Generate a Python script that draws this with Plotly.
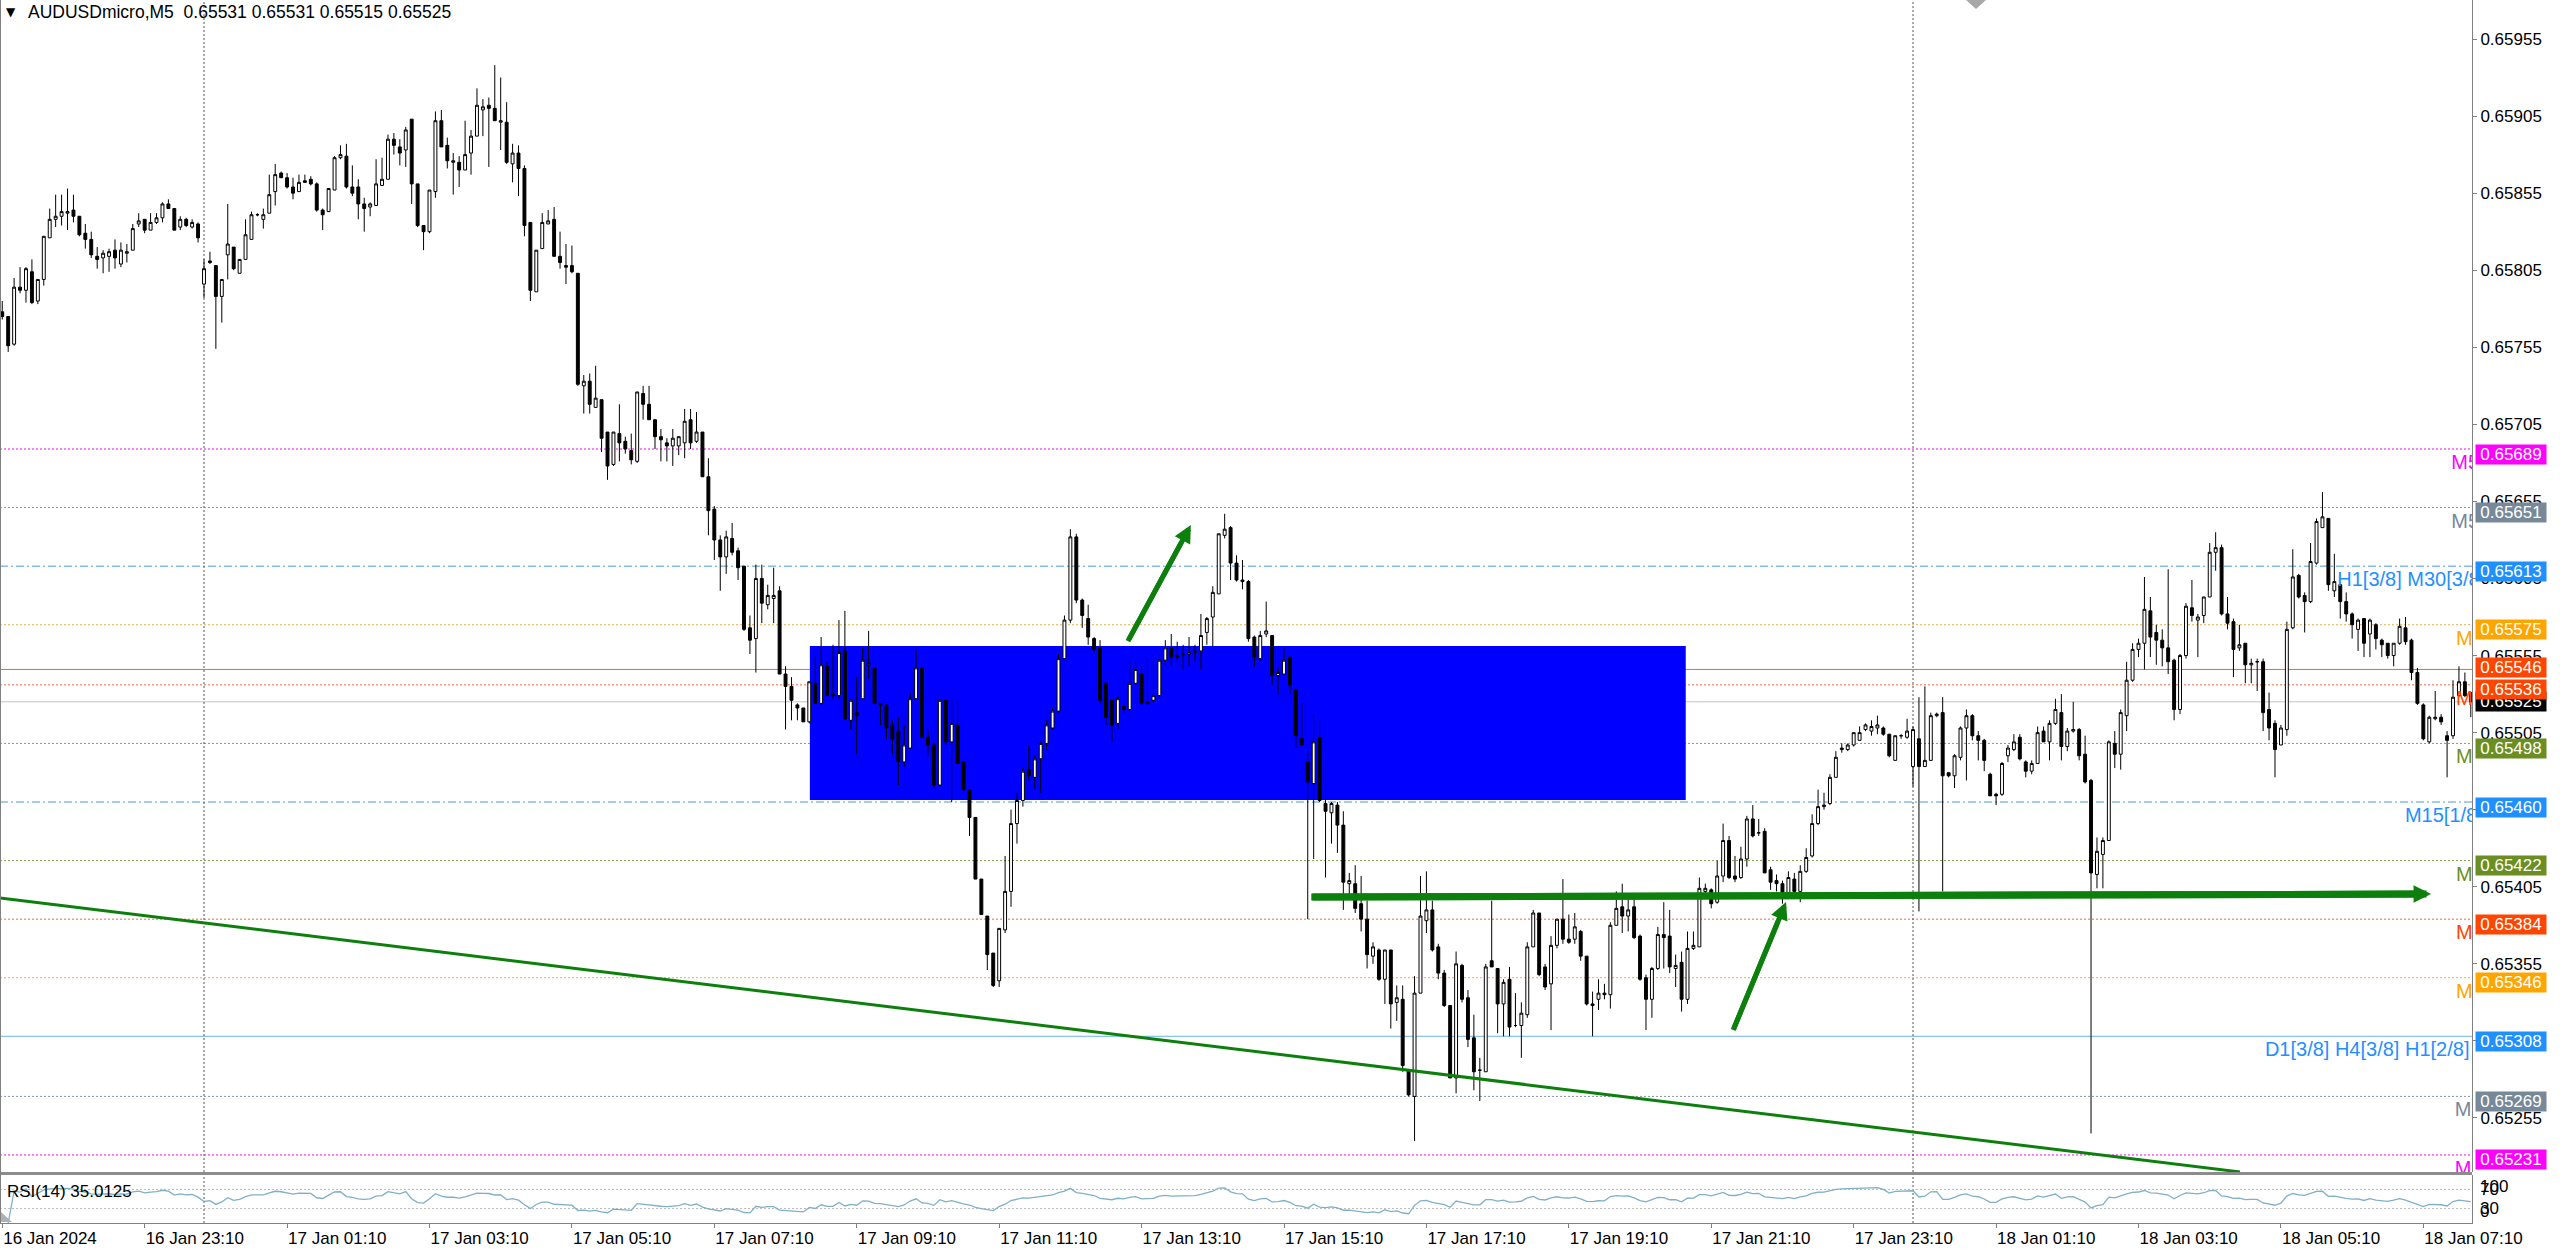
import plotly.graph_objects as go

# ---------------------------------------------------------------- data
SYMBOL = "AUDUSDmicro,M5"
LAST_OHLC = ["0.65531", "0.65531", "0.65515", "0.65525"]
RSI_LABEL = "RSI(14) 35.0125"
FIRST_BAR = -34          # M5 bars counted from 17 Jan 00:00 (bar 0)

# prices in 1e-5 units (65778 -> 0.65778)
OPEN = [
    65778, 65775, 65757, 65794, 65792, 65804, 65785, 65799, 65826, 65838,
    65840, 65842, 65844, 65840, 65829, 65825, 65814, 65813, 65814, 65818,
    65809, 65816, 65818, 65835, 65838, 65831, 65836, 65839, 65848, 65845,
    65833, 65838, 65833, 65835, 65796, 65811, 65808, 65788, 65815, 65820,
    65803, 65812, 65825, 65841, 65838, 65842, 65856, 65868, 65865, 65859,
    65856, 65863, 65864, 65861, 65844, 65843, 65857, 65878, 65879, 65859,
    65859, 65848, 65846, 65847, 65860, 65864, 65890, 65885, 65883, 65903,
    65861, 65834, 65830, 65856, 65902, 65886, 65875, 65875, 65870, 65881,
    65892, 65909, 65912, 65910, 65901, 65901, 65874, 65881, 65871, 65836,
    65791, 65819, 65835, 65838, 65814, 65808, 65808, 65803, 65730, 65733,
    65716, 65721, 65700, 65679, 65699, 65694, 65688, 65681, 65725, 65718,
    65708, 65697, 65693, 65691, 65691, 65693, 65708, 65694, 65700, 65671,
    65650, 65630, 65619, 65631, 65623, 65613, 65573, 65566, 65605, 65588,
    65592, 65597, 65543, 65535, 65523, 65521, 65512, 65537, 65524, 65548,
    65530, 65529, 65558, 65513, 65518, 65527, 65549, 65547, 65524, 65523,
    65510, 65506, 65486, 65495, 65527, 65547, 65502, 65497, 65471, 65526,
    65499, 65510, 65486, 65468, 65450, 65410, 65386, 65362, 65344, 65377,
    65402, 65446, 65461, 65481, 65476, 65488, 65498, 65508, 65519, 65553,
    65578, 65632, 65591, 65579, 65566, 65560, 65537, 65526, 65511, 65522,
    65520, 65537, 65543, 65525, 65526, 65529, 65552, 65560, 65555, 65556,
    65556, 65557, 65558, 65570, 65580, 65595, 65633, 65638, 65615, 65604,
    65603, 65567, 65553, 65569, 65568, 65542, 65543, 65554, 65533, 65501,
    65486, 65472, 65502, 65459, 65453, 65458, 65445, 65407, 65407, 65394,
    65384, 65360, 65364, 65345, 65364, 65330, 65332, 65286, 65269, 65336,
    65383, 65390, 65366, 65349, 65328, 65281, 65354, 65333, 65307, 65286,
    65285, 65357, 65352, 65329, 65345, 65315, 65315, 65322, 65366, 65388,
    65353, 65342, 65367, 65384, 65371, 65371, 65376, 65360, 65329, 65332,
    65336, 65335, 65380, 65392, 65386, 65392, 65373, 65346, 65332, 65352,
    65374, 65373, 65352, 65356, 65332, 65365, 65366, 65402, 65403, 65395,
    65412, 65435, 65412, 65411, 65423, 65449, 65440, 65441, 65416, 65409,
    65407, 65401, 65410, 65402, 65415, 65425, 65446, 65457, 65459, 65476,
    65494, 65494, 65497, 65500, 65507, 65506, 65508, 65508, 65504, 65487,
    65503, 65502, 65483, 65501, 65483, 65487, 65516, 65518, 65479, 65477,
    65489, 65508, 65516, 65503, 65500, 65478, 65465, 65465, 65490, 65494,
    65502, 65486, 65480, 65485, 65506, 65499, 65511, 65518, 65496, 65506,
    65507, 65491, 65474, 65413, 65426, 65435, 65498, 65491, 65516, 65539,
    65559, 65563, 65584, 65570, 65565, 65560, 65552, 65520, 65555, 65586,
    65578, 65581, 65593, 65622, 65625, 65582, 65577, 65560, 65563, 65549,
    65551, 65551, 65520, 65511, 65497, 65507, 65573, 65607, 65594, 65590,
    65615, 65638, 65644, 65597, 65601, 65590, 65582, 65572, 65579, 65569,
    65575, 65565, 65563, 65555, 65563, 65573, 65565, 65544, 65523, 65499,
    65514, 65515, 65503, 65503, 65529, 65538, 65531,
]
HIGH = [
    65785, 65775, 65800, 65807, 65807, 65812, 65799, 65827, 65845, 65854,
    65854, 65858, 65854, 65840, 65835, 65830, 65820, 65818, 65819, 65825,
    65823, 65822, 65835, 65842, 65838, 65842, 65842, 65849, 65851, 65845,
    65840, 65839, 65838, 65836, 65812, 65817, 65808, 65799, 65848, 65820,
    65812, 65838, 65843, 65842, 65845, 65867, 65874, 65869, 65868, 65865,
    65867, 65867, 65866, 65862, 65845, 65858, 65879, 65886, 65887, 65873,
    65864, 65852, 65849, 65877, 65878, 65893, 65894, 65890, 65898, 65903,
    65861, 65834, 65857, 65908, 65909, 65891, 65881, 65879, 65902, 65896,
    65923, 65916, 65917, 65938, 65930, 65914, 65887, 65886, 65873, 65836,
    65818, 65842, 65844, 65846, 65830, 65822, 65821, 65803, 65737, 65738,
    65743, 65721, 65700, 65700, 65718, 65697, 65699, 65726, 65730, 65730,
    65708, 65702, 65696, 65702, 65697, 65715, 65715, 65713, 65700, 65683,
    65652, 65633, 65636, 65641, 65625, 65613, 65581, 65614, 65614, 65601,
    65612, 65600, 65548, 65541, 65524, 65521, 65538, 65554, 65567, 65551,
    65562, 65578, 65584, 65526, 65541, 65560, 65571, 65547, 65524, 65523,
    65513, 65515, 65510, 65531, 65559, 65547, 65507, 65499, 65526, 65526,
    65526, 65526, 65487, 65468, 65450, 65410, 65386, 65362, 65378, 65425,
    65455, 65466, 65482, 65497, 65490, 65499, 65513, 65521, 65556, 65581,
    65637, 65634, 65592, 65588, 65567, 65565, 65538, 65526, 65529, 65523,
    65551, 65551, 65548, 65554, 65551, 65555, 65565, 65569, 65564, 65562,
    65567, 65562, 65582, 65580, 65600, 65634, 65647, 65639, 65620, 65617,
    65604, 65568, 65571, 65590, 65568, 65547, 65560, 65554, 65533, 65524,
    65493, 65517, 65513, 65488, 65460, 65460, 65454, 65414, 65419, 65412,
    65396, 65369, 65365, 65364, 65364, 65341, 65341, 65286, 65347, 65412,
    65415, 65396, 65368, 65351, 65328, 65363, 65355, 65338, 65322, 65294,
    65355, 65396, 65352, 65345, 65353, 65336, 65330, 65369, 65390, 65388,
    65355, 65373, 65384, 65410, 65387, 65388, 65377, 65360, 65337, 65345,
    65342, 65382, 65402, 65407, 65398, 65398, 65374, 65348, 65353, 65379,
    65395, 65390, 65361, 65363, 65376, 65376, 65411, 65407, 65404, 65422,
    65446, 65438, 65425, 65431, 65451, 65458, 65449, 65443, 65418, 65413,
    65409, 65415, 65414, 65419, 65430, 65452, 65468, 65466, 65478, 65493,
    65498, 65498, 65505, 65509, 65511, 65513, 65516, 65509, 65504, 65503,
    65504, 65514, 65509, 65528, 65535, 65518, 65518, 65528, 65479, 65491,
    65509, 65520, 65517, 65506, 65501, 65479, 65466, 65486, 65497, 65504,
    65504, 65487, 65487, 65509, 65509, 65513, 65527, 65530, 65508, 65525,
    65508, 65503, 65475, 65437, 65437, 65500, 65506, 65520, 65551, 65563,
    65566, 65606, 65593, 65575, 65572, 65611, 65553, 65556, 65589, 65604,
    65582, 65593, 65628, 65635, 65627, 65593, 65579, 65575, 65563, 65553,
    65553, 65553, 65531, 65513, 65510, 65577, 65624, 65608, 65596, 65628,
    65644, 65661, 65644, 65621, 65601, 65596, 65583, 65579, 65579, 65579,
    65576, 65566, 65563, 65563, 65579, 65580, 65566, 65547, 65524, 65516,
    65532, 65517, 65506, 65539, 65548, 65544, 65531,
]
LOW = [
    65773, 65752, 65756, 65790, 65784, 65783, 65783, 65795, 65826, 65833,
    65834, 65831, 65836, 65827, 65819, 65813, 65806, 65803, 65804, 65806,
    65807, 65810, 65818, 65833, 65829, 65831, 65835, 65836, 65845, 65831,
    65831, 65833, 65832, 65823, 65787, 65809, 65754, 65771, 65799, 65805,
    65803, 65812, 65825, 65840, 65832, 65842, 65847, 65865, 65858, 65851,
    65856, 65862, 65860, 65843, 65831, 65843, 65857, 65877, 65858, 65853,
    65838, 65830, 65840, 65847, 65860, 65864, 65880, 65873, 65872, 65848,
    65833, 65818, 65829, 65852, 65885, 65871, 65854, 65859, 65870, 65867,
    65892, 65892, 65872, 65902, 65883, 65874, 65862, 65853, 65827, 65785,
    65791, 65819, 65835, 65814, 65806, 65796, 65803, 65730, 65712, 65712,
    65716, 65687, 65669, 65678, 65681, 65686, 65679, 65680, 65708, 65708,
    65689, 65681, 65681, 65678, 65685, 65683, 65689, 65693, 65671, 65633,
    65617, 65597, 65608, 65620, 65604, 65571, 65556, 65544, 65576, 65585,
    65576, 65543, 65507, 65513, 65513, 65512, 65511, 65524, 65523, 65529,
    65527, 65527, 65513, 65507, 65491, 65527, 65540, 65524, 65510, 65501,
    65491, 65471, 65483, 65494, 65527, 65502, 65490, 65469, 65471, 65497,
    65460, 65485, 65465, 65438, 65410, 65387, 65351, 65340, 65340, 65375,
    65392, 65433, 65457, 65474, 65468, 65466, 65494, 65507, 65518, 65553,
    65576, 65589, 65573, 65562, 65557, 65524, 65510, 65499, 65507, 65518,
    65518, 65535, 65523, 65523, 65524, 65527, 65549, 65548, 65551, 65546,
    65548, 65551, 65546, 65562, 65561, 65595, 65631, 65604, 65603, 65598,
    65564, 65548, 65552, 65567, 65536, 65530, 65543, 65530, 65495, 65497,
    65384, 65423, 65460, 65411, 65433, 65427, 65390, 65398, 65388, 65376,
    65352, 65355, 65344, 65329, 65313, 65318, 65285, 65269, 65240, 65336,
    65375, 65363, 65345, 65327, 65281, 65271, 65330, 65301, 65273, 65266,
    65285, 65353, 65310, 65308, 65308, 65314, 65294, 65320, 65366, 65347,
    65338, 65312, 65365, 65368, 65368, 65368, 65357, 65328, 65308, 65325,
    65332, 65326, 65380, 65375, 65376, 65371, 65344, 65312, 65320, 65351,
    65352, 65349, 65340, 65324, 65329, 65364, 65366, 65398, 65391, 65394,
    65408, 65410, 65408, 65410, 65418, 65437, 65438, 65414, 65403, 65402,
    65394, 65400, 65400, 65395, 65414, 65424, 65445, 65455, 65458, 65476,
    65492, 65493, 65496, 65500, 65506, 65503, 65504, 65503, 65489, 65487,
    65501, 65501, 65470, 65389, 65483, 65487, 65515, 65402, 65476, 65469,
    65487, 65474, 65500, 65487, 65480, 65464, 65458, 65464, 65486, 65493,
    65487, 65476, 65478, 65485, 65499, 65487, 65510, 65487, 65493, 65505,
    65487, 65472, 65245, 65404, 65404, 65435, 65482, 65481, 65506, 65538,
    65554, 65546, 65554, 65549, 65548, 65543, 65513, 65517, 65553, 65577,
    65554, 65576, 65593, 65610, 65581, 65572, 65541, 65558, 65537, 65537,
    65532, 65506, 65500, 65476, 65497, 65503, 65572, 65592, 65570, 65589,
    65614, 65638, 65597, 65593, 65579, 65577, 65566, 65558, 65554, 65554,
    65559, 65554, 65553, 65548, 65562, 65562, 65539, 65523, 65500, 65498,
    65513, 65510, 65476, 65501, 65528, 65528, 65515,
]
CLOSE = [
    65775, 65756, 65794, 65792, 65806, 65784, 65799, 65827, 65838, 65840,
    65843, 65843, 65840, 65828, 65825, 65815, 65812, 65816, 65817, 65813,
    65818, 65817, 65832, 65837, 65831, 65836, 65839, 65848, 65845, 65831,
    65838, 65834, 65836, 65826, 65806, 65810, 65788, 65799, 65822, 65806,
    65812, 65828, 65841, 65841, 65841, 65854, 65867, 65865, 65859, 65855,
    65862, 65862, 65861, 65844, 65841, 65858, 65878, 65880, 65859, 65855,
    65848, 65845, 65848, 65861, 65864, 65890, 65886, 65881, 65896, 65861,
    65834, 65830, 65857, 65902, 65885, 65876, 65876, 65870, 65880, 65892,
    65912, 65911, 65910, 65902, 65902, 65875, 65881, 65871, 65834, 65792,
    65818, 65836, 65837, 65814, 65810, 65807, 65804, 65731, 65733, 65718,
    65722, 65696, 65678, 65700, 65693, 65689, 65682, 65726, 65718, 65708,
    65697, 65695, 65691, 65696, 65697, 65707, 65693, 65700, 65671, 65649,
    65630, 65619, 65632, 65622, 65612, 65572, 65565, 65605, 65589, 65594,
    65594, 65543, 65535, 65526, 65521, 65512, 65538, 65524, 65549, 65529,
    65529, 65557, 65514, 65526, 65516, 65552, 65550, 65524, 65523, 65508,
    65501, 65486, 65497, 65527, 65547, 65502, 65497, 65471, 65526, 65499,
    65511, 65485, 65468, 65450, 65410, 65387, 65361, 65341, 65378, 65402,
    65446, 65461, 65480, 65477, 65488, 65498, 65510, 65519, 65553, 65578,
    65632, 65591, 65581, 65567, 65559, 65526, 65515, 65510, 65527, 65520,
    65537, 65546, 65524, 65524, 65529, 65552, 65560, 65554, 65554, 65556,
    65557, 65558, 65568, 65579, 65596, 65634, 65637, 65615, 65604, 65603,
    65566, 65554, 65568, 65571, 65542, 65544, 65552, 65536, 65503, 65497,
    65473, 65499, 65461, 65454, 65459, 65445, 65408, 65409, 65391, 65384,
    65361, 65366, 65345, 65364, 65329, 65333, 65289, 65270, 65336, 65386,
    65390, 65364, 65349, 65328, 65281, 65355, 65332, 65306, 65285, 65286,
    65353, 65353, 65329, 65343, 65314, 65315, 65323, 65366, 65388, 65348,
    65340, 65367, 65384, 65371, 65369, 65379, 65360, 65329, 65328, 65336,
    65335, 65380, 65391, 65386, 65390, 65372, 65345, 65332, 65352, 65374,
    65372, 65353, 65354, 65332, 65365, 65367, 65404, 65404, 65394, 65412,
    65435, 65411, 65410, 65423, 65449, 65438, 65440, 65414, 65408, 65407,
    65401, 65411, 65402, 65415, 65424, 65446, 65457, 65458, 65476, 65489,
    65495, 65497, 65505, 65505, 65510, 65509, 65510, 65504, 65490, 65503,
    65503, 65506, 65507, 65483, 65487, 65516, 65517, 65477, 65477, 65490,
    65508, 65516, 65503, 65500, 65487, 65464, 65464, 65485, 65495, 65499,
    65488, 65480, 65485, 65505, 65499, 65511, 65520, 65496, 65506, 65507,
    65490, 65473, 65414, 65428, 65435, 65499, 65491, 65518, 65539, 65559,
    65563, 65585, 65567, 65565, 65560, 65551, 65520, 65555, 65587, 65581,
    65580, 65593, 65622, 65625, 65582, 65576, 65559, 65562, 65549, 65550,
    65551, 65518, 65508, 65494, 65508, 65572, 65606, 65593, 65590, 65616,
    65642, 65645, 65601, 65603, 65590, 65582, 65575, 65578, 65563, 65578,
    65566, 65562, 65555, 65563, 65574, 65564, 65544, 65524, 65501, 65515,
    65515, 65512, 65500, 65528, 65538, 65529, 65525,
]

TIME_TICK_BARS = [-34, -10, 14, 38, 62, 86, 110, 134, 158, 182, 206, 230, 254,
                  278, 302, 326, 350, 374]
TIME_TICK_TEXT = ["16 Jan 2024", "16 Jan 23:10", "17 Jan 01:10", "17 Jan 03:10",
                  "17 Jan 05:10", "17 Jan 07:10", "17 Jan 09:10", "17 Jan 11:10",
                  "17 Jan 13:10", "17 Jan 15:10", "17 Jan 17:10", "17 Jan 19:10",
                  "17 Jan 21:10", "17 Jan 23:10", "18 Jan 01:10", "18 Jan 03:10",
                  "18 Jan 05:10", "18 Jan 07:10"]
PRICE_TICKS = [0.65255, 0.65305, 0.65355, 0.65405, 0.65455, 0.65505, 0.65555,
               0.65605, 0.65655, 0.65705, 0.65755, 0.65805, 0.65855, 0.65905,
               0.65955]

LEVEL_PRICE = [0.65689, 0.65651, 0.65613, 0.65575, 0.65536, 0.65498, 0.65460,
               0.65422, 0.65384, 0.65346, 0.65308, 0.65269, 0.65231]
LEVEL_NAME = ["M5", "M5", "H1[3/8] M30[3/8]", "M", "M", "M", "M15[1/8]",
              "M", "M", "M", "D1[3/8] H4[3/8] H1[2/8]", "M", "M"]
LEVEL_NAME_BAR = [378.7, 378.7, 359.5, 379.5, 379.5, 379.5, 370.9,
                  379.5, 379.5, 379.5, 347.3, 379.3, 379.3]
ASK_PRICE = 0.65546
BID_PRICE = 0.65525

ZONE_BARS = [102.1, 249.7]
ZONE_PRICES = [0.654613, 0.655612]
TREND_BARS = [-34.38, 343.1]
TREND_PRICES = [0.653977, 0.652200]
SUPPORT_BARS = [186.6, 375.3]
SUPPORT_PRICES = [0.653984, 0.654003]
ARROW1_BARS = [155.7, 166.3]
ARROW1_PRICES = [0.655644, 0.656397]
ARROW2_BARS = [257.7, 266.6]
ARROW2_PRICES = [0.653121, 0.653951]
DAY_BREAK_BARS = [0, 288]
RSI_PERIOD = 14
RSI_LEVELS = [30, 70]

# ---------------------------------------------------------------- styles
FONT = "Liberation Sans, Arial, sans-serif"
W, H = 2560, 1249
M_L, M_R, M_T, M_B = 0, 88, 0, 26
PLOT_W = W - M_L - M_R
PLOT_H = H - M_T - M_B
MAIN_BOTTOM_PX = 1172
RSI_TOP_PX = 1175
X_RANGE = [-34.378, 382.2]
Y_RANGE = [0.6521996, 0.659803]
PRICE_PER_PX = (Y_RANGE[1] - Y_RANGE[0]) / MAIN_BOTTOM_PX
GREEN = "#0c7f0c"

LEVEL_COLOR = ["#FF00FF", "#778899", "#1E90FF", "#FFA500", "#FF4500", "#6B8E23",
               "#1E90FF", "#6B8E23", "#FF4500", "#FFA500", "#1E90FF", "#778899",
               "#FF00FF"]
LEVEL_DASH = ["2px,2px", "2px,2px", "8px,3px,2px,3px", "2px,2px", "2px,2px",
              "2px,2px", "8px,3px,2px,3px", "2px,2px", "2px,2px", "2px,2px",
              "solid", "2px,2px", "2px,2px"]
LEVEL_LINE_COLOR = ["#FF00FF", "#8a97a5", "#4a9ad8", "#E8B04A", "#F06a40", "#86a050",
                    "#4a9ad8", "#86a050", "#F06a40", "#E8B04A", "#6cb6e6", "#8a97a5",
                    "#FF00FF"]


def paper_y(px):
    return 1 - (px - M_T) / PLOT_H


def paper_x(px):
    return (px - M_L) / PLOT_W


bars = list(range(FIRST_BAR, FIRST_BAR + len(CLOSE)))
assert len(OPEN) == len(HIGH) == len(LOW) == len(CLOSE)
o = [v / 1e5 for v in OPEN]
h = [v / 1e5 for v in HIGH]
l = [v / 1e5 for v in LOW]
c = [v / 1e5 for v in CLOSE]

# RSI(14), Wilder smoothing (expanding start)
rsi = [None]
ag = al = 0.0
for i in range(1, len(c)):
    d = c[i] - c[i - 1]
    m = min(i, RSI_PERIOD)
    ag = (ag * (m - 1) + max(d, 0)) / m
    al = (al * (m - 1) + max(-d, 0)) / m
    rsi.append(100.0 if al == 0 else 100 - 100 / (1 + ag / al))

fig = go.Figure()

fig.add_trace(go.Candlestick(
    x=bars, open=o, high=h, low=l, close=c,
    increasing=dict(line=dict(color="black", width=1), fillcolor="white"),
    decreasing=dict(line=dict(color="black", width=1), fillcolor="black"),
    whiskerwidth=0, xaxis="x", yaxis="y", showlegend=False, hoverinfo="skip",
))

# level names (clipped by the plot area like in the terminal)
fig.add_trace(go.Scatter(
    x=LEVEL_NAME_BAR, y=[p - 5 * PRICE_PER_PX for p in LEVEL_PRICE],
    mode="text", text=LEVEL_NAME, textposition="bottom right",
    textfont=dict(family=FONT, size=20, color=LEVEL_COLOR),
    cliponaxis=True, xaxis="x", yaxis="y", showlegend=False, hoverinfo="skip",
))

fig.add_trace(go.Scatter(
    x=bars, y=rsi, mode="lines", line=dict(color="#7fb0c8", width=1.3),
    xaxis="x2", yaxis="y2", showlegend=False, hoverinfo="skip",
))

shapes = []
# blue zone
shapes.append(dict(type="rect", xref="x", yref="y", x0=ZONE_BARS[0], x1=ZONE_BARS[1],
                   y0=ZONE_PRICES[0], y1=ZONE_PRICES[1], fillcolor="#0000FF",
                   line=dict(width=0), layer="below"))
# level lines
for p, col, dash in zip(LEVEL_PRICE, LEVEL_LINE_COLOR, LEVEL_DASH):
    shapes.append(dict(type="line", xref="x domain", yref="y", x0=0, x1=1, y0=p, y1=p,
                       line=dict(color=col, width=1, dash=dash), layer="below"))
shapes.append(dict(type="line", xref="x domain", yref="y", x0=0, x1=1, y0=ASK_PRICE,
                   y1=ASK_PRICE, line=dict(color="#F0643C", width=1), layer="below"))
shapes.append(dict(type="line", xref="x domain", yref="y", x0=0, x1=1, y0=BID_PRICE,
                   y1=BID_PRICE, line=dict(color="#C4C4C4", width=1), layer="below"))
# day separators
for b in DAY_BREAK_BARS:
    shapes.append(dict(type="line", xref="x", yref="y domain", x0=b, x1=b, y0=0, y1=1,
                       line=dict(color="#555555", width=1, dash="2px,2px"), layer="below"))
    shapes.append(dict(type="line", xref="x2", yref="y2 domain", x0=b, x1=b, y0=0, y1=1,
                       line=dict(color="#555555", width=1, dash="2px,2px"), layer="below"))
# RSI levels
for lv in RSI_LEVELS:
    shapes.append(dict(type="line", xref="x2 domain", yref="y2", x0=0, x1=1, y0=lv, y1=lv,
                       line=dict(color="#B8B8B8", width=1, dash="2px,2px"), layer="below"))
# trend line
shapes.append(dict(type="line", xref="x", yref="y", x0=TREND_BARS[0], x1=TREND_BARS[1],
                   y0=TREND_PRICES[0], y1=TREND_PRICES[1],
                   line=dict(color=GREEN, width=3), layer="above"))
# arrow shafts (heads are drawn with annotations below)
for bx, pr, wdt, frac in [(SUPPORT_BARS, SUPPORT_PRICES, 7, 0.985),
                          (ARROW1_BARS, ARROW1_PRICES, 5, 0.85),
                          (ARROW2_BARS, ARROW2_PRICES, 5, 0.85)]:
    shapes.append(dict(type="line", xref="x", yref="y", x0=bx[0], y0=pr[0],
                       x1=bx[0] + (bx[1] - bx[0]) * frac,
                       y1=pr[0] + (pr[1] - pr[0]) * frac,
                       line=dict(color=GREEN, width=wdt), layer="above"))
# panel separator, left frame
shapes.append(dict(type="rect", xref="paper", yref="paper", x0=0, x1=1,
                   y0=paper_y(RSI_TOP_PX), y1=paper_y(MAIN_BOTTOM_PX),
                   fillcolor="#8c8c8c", line=dict(width=0)))
shapes.append(dict(type="line", xref="paper", yref="paper", x0=0, x1=0, y0=0, y1=1,
                   line=dict(color="#808080", width=2)))
# chart-shift marker and small corner marker
shapes.append(dict(type="path", xref="paper", yref="paper",
                   path=f"M {paper_x(1966)},{paper_y(0)} L {paper_x(1986)},{paper_y(0)} "
                        f"L {paper_x(1976)},{paper_y(9)} Z",
                   fillcolor="#A8A8A8", line=dict(width=0)))
shapes.append(dict(type="path", xref="paper", yref="paper",
                   path=f"M {paper_x(1)},{paper_y(1212)} L {paper_x(1)},{paper_y(1222)} "
                        f"L {paper_x(12)},{paper_y(1222)} Z",
                   fillcolor="#B0B0B0", line=dict(width=0)))

ann = []
# title
ann.append(dict(xref="paper", yref="paper", x=paper_x(4), y=paper_y(12), xanchor="left",
                yanchor="middle", text="▼", showarrow=False,
                font=dict(family="DejaVu Sans", size=12, color="black")))
ann.append(dict(xref="paper", yref="paper", x=paper_x(26), y=paper_y(12), xanchor="left",
                yanchor="middle", text=SYMBOL + "\u00a0\u00a0" + " ".join(LAST_OHLC),
                showarrow=False, font=dict(family=FONT, size=17.5, color="black")))
ann.append(dict(xref="paper", yref="paper", x=paper_x(5), y=paper_y(1191), xanchor="left",
                yanchor="middle", text=RSI_LABEL, showarrow=False,
                font=dict(family=FONT, size=17, color="black")))
# rsi scale
for txt, val, anc in [("100", 100, "top"), ("70", 70, "middle"), ("30", 30, "middle"),
                      ("0", 0, "bottom")]:
    ann.append(dict(xref="paper", yref="y2", x=1, y=val, xanchor="left", xshift=6,
                    yanchor=anc, text=txt, showarrow=False,
                    font=dict(family=FONT, size=17, color="black")))
# price boxes
boxes = [(BID_PRICE, "#000000", 0)]
for p, col in zip(LEVEL_PRICE, LEVEL_COLOR):
    boxes.append((p, col, -5))
boxes.append((ASK_PRICE, "#FF4500", 2))
for p, col, ys in boxes:
    ann.append(dict(xref="paper", yref="y", x=1, y=p, xanchor="left", xshift=3,
                    yanchor="middle", yshift=ys, text=f"{p:.5f}", showarrow=False,
                    bgcolor=col, width=70, height=19, borderpad=0, align="center",
                    font=dict(family=FONT, size=17, color="white")))
# arrow heads
for bx, pr, wdt, size in [(SUPPORT_BARS, SUPPORT_PRICES, 7, 0.5),
                          (ARROW1_BARS, ARROW1_PRICES, 5, 0.7),
                          (ARROW2_BARS, ARROW2_PRICES, 5, 0.7)]:
    ann.append(dict(xref="x", yref="y", axref="x", ayref="y", x=bx[1], y=pr[1],
                    ax=bx[0], ay=pr[0], text="", showarrow=True, arrowhead=2,
                    arrowsize=size, arrowwidth=wdt, arrowcolor=GREEN))

fig.update_layout(
    width=W, height=H, autosize=False,
    margin=dict(l=M_L, r=M_R, t=M_T, b=M_B, pad=0),
    paper_bgcolor="white", plot_bgcolor="white",
    font=dict(family=FONT, size=17, color="black"),
    showlegend=False, hovermode=False,
    shapes=shapes, annotations=ann,
    xaxis=dict(domain=[0, 1], anchor="y", range=X_RANGE, showticklabels=False,
               showgrid=False, zeroline=False, showline=False, ticks="",
               rangeslider=dict(visible=False)),
    yaxis=dict(domain=[paper_y(MAIN_BOTTOM_PX), 1], anchor="x", side="right",
               range=Y_RANGE, tickvals=PRICE_TICKS,
               ticktext=[f"{v:.5f}" for v in PRICE_TICKS], ticks="outside", ticklen=4,
               tickcolor="#808080", showline=True, linecolor="#808080", linewidth=1,
               showgrid=False, zeroline=False,
               tickfont=dict(family=FONT, size=17, color="black")),
    xaxis2=dict(domain=[0, 1], anchor="y2", matches="x", range=X_RANGE,
                tickvals=TIME_TICK_BARS, ticktext=TIME_TICK_TEXT, ticks="outside",
                ticklen=4, tickcolor="#808080", ticklabelposition="outside right",
                showline=True, linecolor="#808080", linewidth=1, showgrid=False,
                zeroline=False, tickfont=dict(family=FONT, size=17, color="black")),
    yaxis2=dict(domain=[0, paper_y(RSI_TOP_PX)], anchor="x2", side="right",
                range=[0, 100], showticklabels=False, ticks="", showline=True,
                linecolor="#808080", linewidth=1, showgrid=False, zeroline=False),
)

fig.write_html("out.html", include_plotlyjs=True, full_html=True,
               config={"displayModeBar": False, "responsive": False},
               post_script="document.body.style.margin='0';"
                           "document.body.style.overflow='hidden';")
